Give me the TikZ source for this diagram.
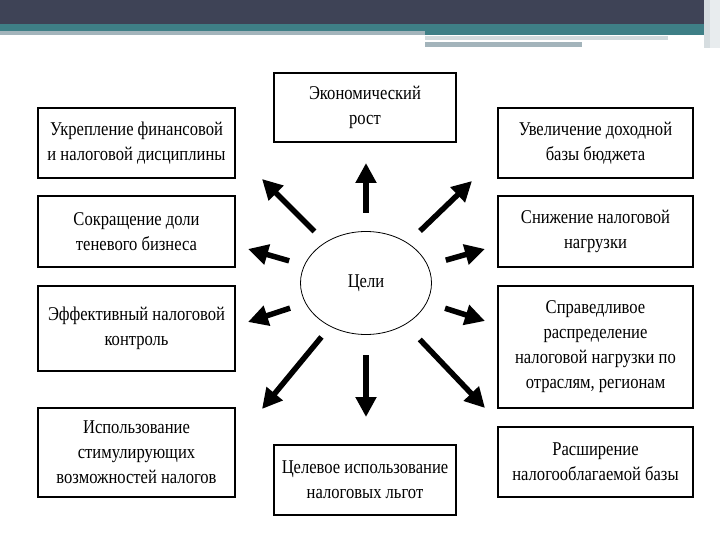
\documentclass[tikz,border=0pt]{standalone}
\usepackage{fontspec}
\setmainfont[FakeStretch=0.85]{Liberation Serif}
\usetikzlibrary{arrows.meta,shapes.geometric}
\definecolor{slatebar}{HTML}{3E4356}
\definecolor{tealbar}{HTML}{3E7F86}
\definecolor{greybar}{HTML}{A3B4BB}
\tikzset{
  goalbox/.style={draw, line width=1.4pt, align=center, inner sep=2pt,
    font=\fontsize{19.5}{25}\selectfont},
  fatarrow/.style={-{Triangle[length=20pt,width=20pt]}, line width=5.5pt}
}
\begin{document}
\begin{tikzpicture}[x=1pt, y=-1pt]
\useasboundingbox (0,0) rectangle (720,540);
% header bars
\fill[slatebar] (0,0) rectangle (720,24);
\fill[tealbar] (0,24) rectangle (720,31);
\fill[greybar] (0,31) rectangle (425,35);
\fill[tealbar] (425,31) rectangle (704,35);
\fill[greybar!50] (425,36) rectangle (668,40);
\fill[greybar] (425,42) rectangle (582,47);
\fill[greybar!45] (704,0) rectangle (720,48);
\fill[greybar!25] (710,0) rectangle (720,48);
% boxes
\node[goalbox, minimum width=182pt, minimum height=69pt] (econ) at (365,107.5) {Экономический\\рост};
\node[goalbox, minimum width=197pt, minimum height=70pt] (fin) at (136.5,143) {Укрепление финансовой\\и налоговой дисциплины};
\node[goalbox, minimum width=197pt, minimum height=71pt] (shadow) at (136.5,231.5) {Сокращение доли\\теневого бизнеса};
\node[goalbox, minimum width=197pt, minimum height=85pt] (control) at (136.5,328.5) {Эффективный налоговой\\контроль};
\node[goalbox, minimum width=197pt, minimum height=89pt] (stim) at (136.5,452.5) {Использование\\стимулирующих\\возможностей налогов};
\node[goalbox, minimum width=195pt, minimum height=70pt] (budget) at (595.5,143) {Увеличение доходной\\базы бюджета};
\node[goalbox, minimum width=195pt, minimum height=71pt] (burden) at (595.5,231.5) {Снижение налоговой\\нагрузки};
\node[goalbox, minimum width=195pt, minimum height=122pt] (fair) at (595.5,347) {Справедливое\\распределение\\налоговой нагрузки по\\отраслям, регионам};
\node[goalbox, minimum width=195pt, minimum height=70pt] (base) at (595.5,462) {Расширение\\налогооблагаемой базы};
\node[goalbox, minimum width=182pt, minimum height=70pt] (relief) at (365,480) {Целевое использование\\налоговых льгот};
\node[draw, ellipse, line width=0.8pt, minimum width=131pt, minimum height=103pt,
  font=\fontsize{19.5}{25}\selectfont] (goals) at (366,283) {Цели};
% arrow tips
\coordinate (tipN) at (366,163);
\coordinate (tipNW) at (262,179);
\coordinate (tipNE) at (472,181);
\coordinate (tipWN) at (248,249);
\coordinate (tipWS) at (248,322);
\coordinate (tipEN) at (485,249);
\coordinate (tipES) at (485,321);
\coordinate (tipSW) at (262,409);
\coordinate (tipS) at (366,417);
\coordinate (tipSE) at (485,408);
\foreach \t/\d in {N/70, NW/73, NE/75, WN/80, WS/80, EN/83, ES/83, SW/70, S/72, SE/78}
  \draw[fatarrow, shorten <=\d pt] (goals.center) -- (tip\t);
\end{tikzpicture}
\end{document}
